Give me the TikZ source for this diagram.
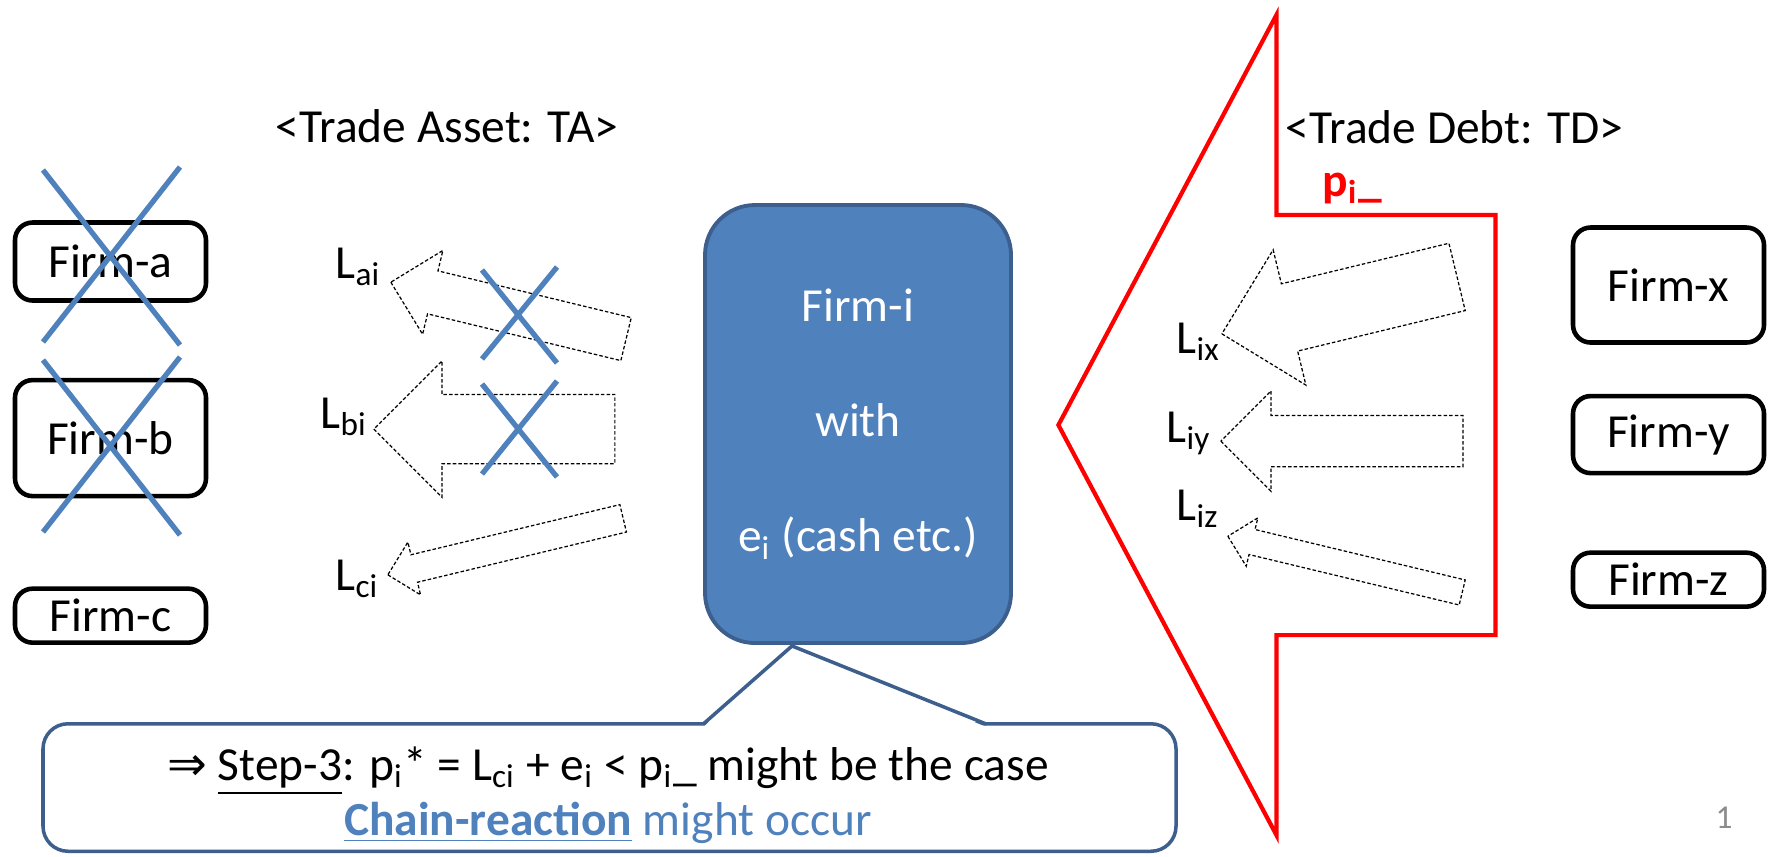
\documentclass[tikz,border=0pt]{standalone}
\usepackage{fontspec}
\setmainfont{Carlito}
\newfontfamily\symfont{DejaVu Sans}
\usetikzlibrary{positioning,calc,shapes.arrows}

\definecolor{firmblue}{HTML}{4F81BD}
\definecolor{edgeblue}{HTML}{3C5F8E}
\definecolor{pagegray}{HTML}{8C8C8C}

\begin{document}
\begin{tikzpicture}[
  font=\fontsize{13.5}{16.2}\selectfont,
  firm/.style={draw,line width=1.3pt,rounded corners=5pt,minimum width=1.91cm,inner sep=2pt},
  core/.style={draw=edgeblue,fill=firmblue,line width=1.1pt,rounded corners=0.5cm,
    minimum width=3.06cm,minimum height=4.38cm,text=white,align=center},
  flow/.style={single arrow,draw,line width=0.35pt,dash pattern=on 1pt off 0.6pt,
    inner xsep=0pt,anchor=tip},
  lbl/.style={anchor=base west,inner sep=0pt},
  cross/.style={firmblue,line width=1.5pt},
  callout/.style={draw=edgeblue,line width=1pt,fill=white},
  node distance=0.75cm]
\useasboundingbox (0,0) rectangle (17.73,-8.56);

\node[single arrow,draw=red,line width=1.2pt,rotate=180,anchor=tip,inner xsep=0pt,inner ysep=2.08cm,
  minimum height=4.37cm,single arrow head extend=2cm,
  single arrow tip angle=124](td) at (10.56,-4.25){};

\node[lbl](ta) at (2.75,-1.42){<Trade Asset: TA>};
\node[lbl](tdl) at (12.85,-1.43){<Trade Debt: TD>};
\node[lbl,text=red,font=\fontsize{13.5}{16.2}\selectfont\bfseries](pbar) at (13.22,-1.96){p\textsubscript{i}\_};

\node[firm,minimum height=0.78cm](fa) at (1.105,-2.615){Firm-a};
\node[firm,minimum height=1.16cm,below=of fa](fb){Firm-b};
\node[firm,minimum height=0.54cm,below=0.88cm of fb](fc){Firm-c};

\node[firm,minimum height=1.15cm](fx) at (16.685,-2.85){Firm-x};
\node[firm,minimum height=0.77cm,below=0.49cm of fx](fy){Firm-y};
\node[firm,minimum height=0.54cm,below=of fy](fz){Firm-z};

\node[core](fi) at (8.58,-4.24){Firm-i\\[16.5pt]with\\[16.5pt]e\textsubscript{i} (cash etc.)};

\node[flow,rotate=166.4,minimum height=2.42cm,inner ysep=0.215cm,single arrow head extend=0.21cm](aai) at (3.90,-2.82){};
\node[flow,rotate=180,minimum height=2.41cm,inner ysep=0.34cm,single arrow head extend=0.335cm](abi) at (3.73,-4.29){};
\node[flow,rotate=193.5,minimum height=2.42cm,inner ysep=0.135cm,single arrow head extend=0.13cm](aci) at (3.87,-5.75){};
\node[flow,rotate=193.6,minimum height=2.42cm,inner ysep=0.34cm,single arrow head extend=0.35cm](aix) at (12.21,-3.34){};
\node[flow,rotate=180,minimum height=2.42cm,inner ysep=0.25cm,single arrow head extend=0.245cm](aiy) at (12.20,-4.41){};
\node[flow,rotate=166.5,minimum height=2.41cm,inner ysep=0.1225cm,single arrow head extend=0.12cm](aiz) at (12.27,-5.36){};

\node[lbl](lai) at (3.35,-2.78){L\textsubscript{ai}};
\node[lbl](lbi) at (3.20,-4.28){L\textsubscript{bi}};
\node[lbl](lci) at (3.35,-5.90){L\textsubscript{ci}};
\node[lbl](lix) at (11.76,-3.53){L\textsubscript{ix}};
\node[lbl](liy) at (11.66,-4.42){L\textsubscript{iy}};
\node[lbl](liz) at (11.76,-5.20){L\textsubscript{iz}};

\draw[cross](0.43,-1.70)--(1.80,-3.45) (1.80,-1.67)--(0.43,-3.42);
\draw[cross](0.43,-3.60)--(1.80,-5.35) (1.80,-3.57)--(0.43,-5.32);
\draw[cross](4.82,-2.70)--(5.57,-3.63) (5.57,-2.67)--(4.82,-3.59);
\draw[cross](4.82,-3.84)--(5.57,-4.77) (5.57,-3.81)--(4.82,-4.74);

\node[callout,rounded corners=0.25cm,minimum width=11.33cm,minimum height=1.275cm](callout) at (6.095,-7.875){};
\coordinate (ptr) at ($(fi.south)+(-0.66,-0.01)$);
\coordinate (cl) at ($(callout.north west)+(6.62,-0.02)$);
\coordinate (cr) at ($(callout.north west)+(9.45,-0.02)$);
\fill[white]($(cl)+(0,-0.03)$)--(ptr)--($(cr)+(0,-0.03)$)--cycle;
\draw[edgeblue,line width=1pt](cl)--(ptr)--(cr);
\node[align=center,font=\fontsize{13.5}{15.6}\selectfont](note) at (6.08,-7.95){{\symfont ⇒} \underline{Step-3}: p\textsubscript{i}* = L\textsubscript{ci} + e\textsubscript{i} < p\textsubscript{i}\_ might be the case\\
  \textcolor{firmblue}{\underline{\textbf{Chain-reaction}} might occur}};

\node[anchor=base,inner sep=0pt,text=pagegray,font=\fontsize{9.5}{11}\selectfont](pg) at (17.24,-8.28){1};
\end{tikzpicture}
\end{document}
